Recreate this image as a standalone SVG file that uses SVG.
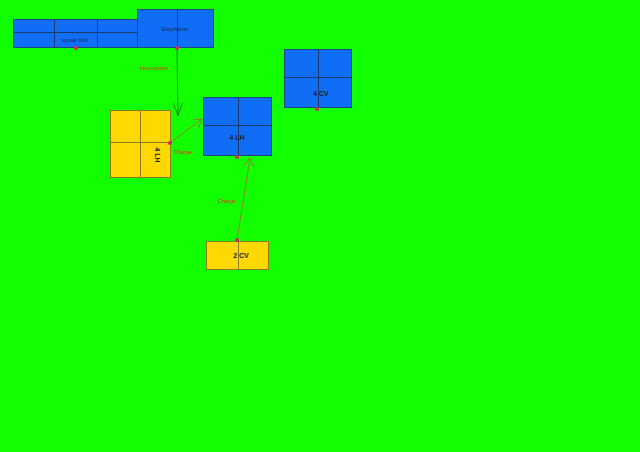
<svg xmlns="http://www.w3.org/2000/svg" width="640" height="452" viewBox="0 0 640 452">
<defs>
<style>
.blue{fill:#0f6ef5;stroke:#1a4a7a;stroke-width:1}
.yel{fill:#ffd800;stroke:#8a7a20;stroke-width:1}
.dv{stroke:#1a3a6a;stroke-width:1;fill:none}
.dy{stroke:#8a7a20;stroke-width:1;fill:none}
.t{font-family:"Liberation Sans",Arial,sans-serif;font-size:6px;fill:#10306a;text-anchor:middle}
.tb{font-family:"Liberation Sans",Arial,sans-serif;font-size:7px;font-weight:bold;fill:#202020;text-anchor:middle}
.lbl{font-family:"Liberation Sans",Arial,sans-serif;font-size:5.5px;fill:#d03a10;text-anchor:middle}
.dot{fill:#e0206a}
.charge{stroke:#b0603a;stroke-width:0.8;fill:none}
.intc{stroke:#1e7a1e;stroke-width:0.9;fill:none}
</style>
<marker id="ah" markerWidth="10" markerHeight="10" refX="8" refY="5" orient="auto" markerUnits="userSpaceOnUse">
<path d="M0,0 L8,5 L0,10" fill="none" stroke="#b0603a" stroke-width="0.8"/>
</marker>
<marker id="ahg" markerWidth="16" markerHeight="12" refX="13" refY="5" orient="auto" markerUnits="userSpaceOnUse">
<path d="M0,0.5 L13,5 L0,9.5" fill="none" stroke="#1e7a1e" stroke-width="0.9"/>
</marker>
</defs>
<rect width="640" height="452" fill="#11ff00"/>
<g id="connectors">
<line class="intc" x1="177" y1="48" x2="178" y2="116" marker-end="url(#ahg)"/>
<text class="lbl" x="154" y="70">Interception</text>
<line class="charge" x1="170" y1="143" x2="202" y2="119" marker-end="url(#ah)"/>
<text class="lbl" x="183" y="154">Charge</text>
<line class="charge" x1="237" y1="240" x2="250" y2="158" marker-end="url(#ah)"/>
<text class="lbl" x="227" y="203">Charge</text>
</g>
<g id="spear-fish">
<rect class="blue" x="13.5" y="19.5" width="124" height="28"/>
<path class="dv" d="M54.5,19.5V47.5M97.5,19.5V47.5M13.5,32.5H137.5"/>
<text class="t" x="75" y="42">spear fish</text>
<circle class="dot" cx="76" cy="48" r="2"/>
</g>
<g id="elephants">
<rect class="blue" x="137.5" y="9.5" width="76" height="38"/>
<path class="dv" d="M177.5,9.5V47.5"/>
<text class="t" x="175" y="31">Elephants</text>
<circle class="dot" cx="177" cy="48" r="2"/>
</g>
<g id="lh-yellow">
<rect class="yel" x="110.5" y="110.5" width="60" height="67"/>
<path class="dy" d="M140.5,110.5V177.5M110.5,142.5H170.5"/>
<text class="tb" transform="translate(155,155) rotate(90)">4 LH</text>
<circle class="dot" cx="170" cy="143" r="2"/>
</g>
<g id="lh-blue">
<rect class="blue" x="203.5" y="97.5" width="68" height="58"/>
<path class="dv" d="M238.5,97.5V155.5M203.5,125.5H271.5"/>
<text class="tb" x="237" y="140">4 LH</text>
<circle class="dot" cx="237" cy="157" r="2"/>
</g>
<g id="cv4">
<rect class="blue" x="284.5" y="49.5" width="67" height="58"/>
<path class="dv" d="M318.5,49.5V107.5M284.5,77.5H351.5"/>
<text class="tb" x="321" y="96">4 CV</text>
<circle class="dot" cx="317" cy="109" r="2"/>
</g>
<g id="cv2">
<rect class="yel" x="206.5" y="241.5" width="62" height="28"/>
<path class="dy" d="M238.5,241.5V269.5"/>
<text class="tb" x="241" y="258">2 CV</text>
<circle class="dot" cx="237" cy="240" r="2"/>
</g>
</svg>
